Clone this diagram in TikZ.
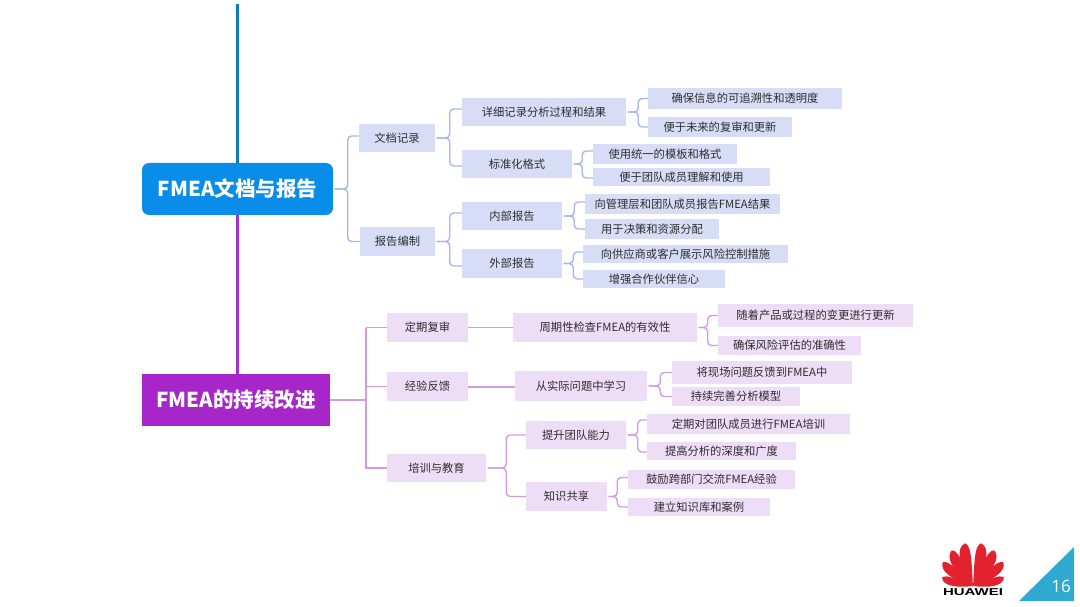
\documentclass[tikz,border=0pt]{standalone}
\usepackage{fontspec}
\setmainfont{Noto Sans CJK SC}
\newfontfamily\logofont{Liberation Sans}
\newfontfamily\numfont{Open Sans}
\definecolor{bluebox}{HTML}{D7DDF6}
\definecolor{purpbox}{HTML}{EEDDF7}
\definecolor{blueln}{HTML}{A9B4EC}
\definecolor{purpln}{HTML}{D29AE8}
\definecolor{rootblue}{HTML}{0A8CE9}
\definecolor{rootpurp}{HTML}{A626C9}
\definecolor{spineblue}{HTML}{0A7DB4}
\definecolor{spinepurp}{HTML}{AB30D2}
\definecolor{txt}{HTML}{2E2E2E}
\definecolor{tri}{HTML}{2FA9CF}
\definecolor{hwred}{HTML}{E2222E}
\newcommand{\bx}[7]{\node[#2,minimum width={(#5-#3)*1pt},minimum height={(#6-#4)*1pt}] (#1) at ({(#3+#5)/2},{(#4+#6)/2}) {#7};}
\newcommand{\cn}[5]{\draw[#1] ([xshift=1.5pt]#2.east) -- ++(#3,0) |- ([yshift=#5pt]#4.west);}
\newcommand{\petal}[4]{\fill[hwred,shift={(973,586)},xscale=#4,rotate=#1] (0,0) .. controls (-#3,-0.55*#2) and (-#3,-0.93*#2) .. (-0.05*#3,-#2) .. controls (0.62*#3,-0.92*#2) and (0.15*#3,-0.4*#2) .. (0,0) -- cycle;}
\tikzset{
  boxbase/.style={inner sep=0pt,text=txt,font=\fontsize{11.3pt}{13pt}\selectfont},
  bb/.style={boxbase,fill=bluebox},
  pb/.style={boxbase,fill=purpbox},
  rootbox/.style={inner sep=0pt,text=white,font=\fontsize{20.5pt}{24pt}\selectfont\bfseries},
  bl/.style={blueln,line width=1.4pt,rounded corners=4pt},
  pl/.style={purpln,line width=1.4pt,rounded corners=4pt},
  plt/.style={purpln,line width=1.6pt},
  spine/.style={line width=3pt}
}
\begin{document}
\begin{tikzpicture}[x=1pt,y=-1pt]
\useasboundingbox (0,0) rectangle (1080,607);
\coordinate (top) at (237.5,4);
% level 0
\bx{rootA}{rootbox,fill=rootblue,rounded corners=7pt}{142}{163}{333}{215}{FMEA文档与报告}
\bx{rootB}{rootbox,fill=rootpurp}{142}{374}{330}{426}{FMEA的持续改进}
\draw[spine,spineblue] (top) -- (top |- rootA.north);
\draw[spine,spinepurp] (rootA.south -| top) -- (rootB.north -| top);
% level 1 blue
\bx{a1}{bb}{359}{124}{435}{152}{文档记录}
\bx{a2}{bb}{360}{227}{435}{256}{报告编制}
\bx{a11}{bb}{462}{98}{626}{126}{详细记录分析过程和结果}
\bx{a12}{bb}{462}{150}{572}{178}{标准化格式}
\bx{a21}{bb}{462}{202}{562}{230}{内部报告}
\bx{a22}{bb}{462}{249}{562}{278}{外部报告}
\bx{l1}{bb}{648}{88}{842}{109}{确保信息的可追溯性和透明度}
\bx{l2}{bb}{648}{117}{792}{137}{便于未来的复审和更新}
\bx{l3}{bb}{593}{144}{737}{164}{使用统一的模板和格式}
\bx{l4}{bb}{593}{168}{770}{186}{便于团队成员理解和使用}
\bx{l5}{bb}{585}{194}{780}{214}{向管理层和团队成员报告FMEA结果}
\bx{l6}{bb}{585}{219}{719}{239}{用于决策和资源分配}
\bx{l7}{bb}{583}{245}{788}{263}{向供应商或客户展示风险控制措施}
\bx{l8}{bb}{583}{270}{725}{288}{增强合作伙伴信心}
% level 1 purple
\bx{b1}{pb}{387}{313}{468}{342}{定期复审}
\bx{b2}{pb}{387}{372}{468}{401}{经验反馈}
\bx{b3}{pb}{387}{454}{486}{482}{培训与教育}
\bx{b11}{pb}{513}{313}{697}{342}{周期性检查FMEA的有效性}
\bx{b21}{pb}{515}{371}{647}{401}{从实际问题中学习}
\bx{b31}{pb}{526}{421}{626}{449}{提升团队能力}
\bx{b32}{pb}{526}{482}{607}{511}{知识共享}
\bx{m1}{pb}{718}{304}{913}{327}{随着产品或过程的变更进行更新}
\bx{m2}{pb}{718}{336}{861}{355}{确保风险评估的准确性}
\bx{m3}{pb}{672}{361}{852}{384}{将现场问题反馈到FMEA中}
\bx{m4}{pb}{672}{387}{800}{406}{持续完善分析模型}
\bx{m5}{pb}{647}{414}{850}{434}{定期对团队成员进行FMEA培训}
\bx{m6}{pb}{647}{442}{796}{460}{提高分析的深度和广度}
\bx{m7}{pb}{628}{470}{795}{489}{鼓励跨部门交流FMEA经验}
\bx{m8}{pb}{628}{498}{770}{516}{建立知识库和案例}
% blue connectors
\cn{bl}{rootA}{13}{a1}{2}
\cn{bl}{rootA}{13}{a2}{0}
\cn{bl}{a1}{13}{a11}{3}
\cn{bl}{a1}{13}{a12}{-2}
\cn{bl}{a2}{13}{a21}{3}
\cn{bl}{a2}{13}{a22}{-2.5}
\cn{bl}{a11}{10.5}{l1}{0}
\cn{bl}{a11}{10.5}{l2}{0}
\cn{bl}{a12}{8.5}{l3}{3}
\cn{bl}{a12}{8.5}{l4}{-1}
\cn{bl}{a21}{10.5}{l5}{2}
\cn{bl}{a21}{10.5}{l6}{0}
\cn{bl}{a22}{9.5}{l7}{2}
\cn{bl}{a22}{9.5}{l8}{0}
% purple connectors
\draw[plt] (rootB.east) -- ++(36,0) coordinate (jB);
\draw[plt] (jB |- b1.west) -- (b1.west);
\draw[plt] (jB |- b2.west) -- (b2.west);
\draw[plt] (jB |- b1.west) -- (jB |- b3.west) -- (b3.west);
\draw[plt] (b1.east) -- (b11.west);
\draw[plt,line width=2pt] (b2.east) -- (b2.east -| b21.west);
\cn{pl}{b3}{18.5}{b31}{0}
\cn{pl}{b3}{18.5}{b32}{0}
\cn{pl}{b11}{9}{m1}{0}
\cn{pl}{b11}{9}{m2}{0}
\cn{pl}{b21}{11.5}{m3}{0}
\cn{pl}{b21}{11.5}{m4}{0}
\cn{pl}{b31}{10}{m5}{4}
\cn{pl}{b31}{10}{m6}{-1}
\cn{pl}{b32}{8.5}{m7}{2}
\cn{pl}{b32}{8.5}{m8}{0}
% logo
\petal{10}{43.5}{10.5}{1}
\petal{10}{43.5}{10.5}{-1}
\petal{30}{41.5}{10}{1}
\petal{30}{41.5}{10}{-1}
\petal{51}{38.5}{9}{1}
\petal{51}{38.5}{9}{-1}
\petal{74}{32}{7.5}{1}
\petal{74}{32}{7.5}{-1}
\node[inner sep=0pt,xscale=1.5,font=\logofont\bfseries\fontsize{10pt}{11pt}\selectfont,text=black] (hw) at (973,592) {HUAWEI};
\fill[tri] (1019,601) -- (1074,547) -- (1074,601) -- cycle;
\node[inner sep=0pt,text=white,font=\numfont\fontsize{17pt}{19pt}\selectfont] (pg) at (1061,586) {16};
\end{tikzpicture}
\end{document}
